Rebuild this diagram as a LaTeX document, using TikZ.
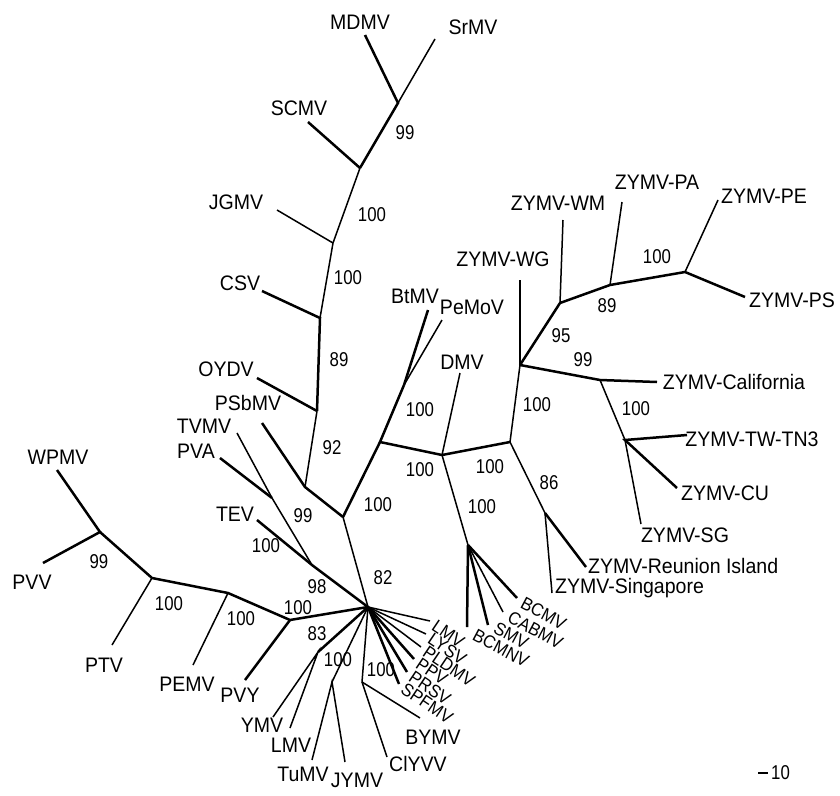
\documentclass[tikz,border=0pt]{standalone}
\usepackage{fontspec}
\newfontfamily\labfam[FakeStretch=0.93]{Liberation Sans}
\newfontfamily\numfam[FakeStretch=0.84]{Liberation Sans}
\tikzset{
  br/.style={line width=1.5pt},
  thk/.style={line width=2.5pt},
  lab/.style={font=\labfam\fontsize{21}{21}\selectfont, inner sep=0pt},
  bsv/.style={font=\numfam\fontsize{20}{20}\selectfont, inner sep=0pt},
  rlab/.style={font=\labfam\fontsize{18}{18}\selectfont, inner sep=0pt, anchor=west},
}
\begin{document}
\begin{tikzpicture}[x=1pt,y=-1pt]
\useasboundingbox (0,0) rectangle (840,795);
% noeuds internes
\coordinate (a) at (398,103);
\coordinate (b) at (360,168);
\coordinate (c) at (333,243);
\coordinate (d) at (320,318);
\coordinate (e) at (317,411);
\coordinate (f) at (305,487);
\coordinate (g) at (343,517);
\coordinate (t) at (368,607);
\coordinate (i) at (380,442);
\coordinate (h) at (404,385);
\coordinate (j) at (442,455);
\coordinate (k) at (510,442);
\coordinate (l) at (468,545);
\coordinate (m) at (520,365);
\coordinate (n) at (545,513);
\coordinate (o) at (560,303);
\coordinate (p) at (610,285);
\coordinate (q) at (685,272);
\coordinate (r) at (600,380);
\coordinate (s) at (625,440);
\coordinate (x) at (272,498);
\coordinate (v) at (312,565);
\coordinate (w) at (290,620);
\coordinate (y) at (228,593);
\coordinate (z) at (152,578);
\coordinate (aa) at (100,532);
\coordinate (ab) at (318,652);
\coordinate (ac) at (332,682);
\coordinate (ad) at (362,682);
% extremites des feuilles
\coordinate (mdmv) at (365,35);
\coordinate (srmv) at (435,39);
\coordinate (scmv) at (308,122);
\coordinate (jgmv) at (277,210);
\coordinate (csv) at (262,291);
\coordinate (oydv) at (257,378);
\coordinate (psbmv) at (262,423);
\coordinate (tvmv) at (237,433);
\coordinate (pva) at (220,458);
\coordinate (tev) at (257,520);
\coordinate (wpmv) at (57,470);
\coordinate (pvv) at (43,563);
\coordinate (ptv) at (112,645);
\coordinate (pemv) at (193,665);
\coordinate (pvy) at (245,680);
\coordinate (ymv) at (273,717);
\coordinate (lmv) at (290,728);
\coordinate (tumv) at (312,760);
\coordinate (jymv) at (345,762);
\coordinate (ciyvv) at (387,757);
\coordinate (bymv) at (420,718);
\coordinate (btmv) at (428,310);
\coordinate (pemov) at (442,320);
\coordinate (dmv) at (460,373);
\coordinate (zwg) at (520,280);
\coordinate (zwm) at (563,220);
\coordinate (zpa) at (622,202);
\coordinate (zpe) at (718,200);
\coordinate (zps) at (745,297);
\coordinate (zcal) at (657,382);
\coordinate (ztw) at (687,435);
\coordinate (zcu) at (677,488);
\coordinate (zsg) at (641,524);
\coordinate (zre) at (586,567);
\coordinate (zsi) at (552,593);
\coordinate (lmvs) at (430,621);
\coordinate (lysv) at (426,634);
\coordinate (pldmv) at (421,647);
\coordinate (ppv) at (414,659);
\coordinate (prsv) at (407,672);
\coordinate (spfmv) at (399,684);
\coordinate (bcmv) at (517,598);
\coordinate (cabmv) at (503,612);
\coordinate (smv) at (488,625);
\coordinate (bcmnv) at (467,627);

% branches
\draw[thk] (mdmv) -- (a) -- (b);
\draw[br] (srmv) -- (a);
\draw[thk] (scmv) -- (b);
\draw[br] (b) -- (c) -- (d);
\draw[br] (jgmv) -- (c);
\draw[thk] (csv) -- (d) -- (e);
\draw[thk] (oydv) -- (e);
\draw[br] (e) -- (f);
\draw[thk] (psbmv) -- (f) -- (g);
\draw[br] (g) -- (t);
\draw[thk] (g) -- (i) -- (h);
\draw[thk] (btmv) -- (h);
\draw[br] (pemov) -- (h);
\draw[thk] (i) -- (j) -- (k);
\draw[br] (dmv) -- (j);
\draw[br] (j) -- (l);
\draw[br] (k) -- (m);
\draw[br] (zwg) -- (m);
\draw[thk] (m) -- (o) -- (p) -- (q) -- (zps);
\draw[br] (zwm) -- (o);
\draw[br] (zpa) -- (p);
\draw[br] (zpe) -- (q);
\draw[thk] (m) -- (r) -- (zcal);
\draw[br] (r) -- (s) -- (zsg);
\draw[thk] (ztw) -- (s) -- (zcu);
\draw[br] (k) -- (n) -- (zsi);
\draw[thk] (n) -- (zre);
\draw[br] (tvmv) -- (x) -- (v);
\draw[thk] (pva) -- (x);
\draw[thk] (tev) -- (v) -- (t);
\draw[thk] (wpmv) -- (aa) -- (pvv);
\draw[thk] (aa) -- (z) -- (y) -- (w) -- (t);
\draw[br] (ptv) -- (z);
\draw[br] (pemv) -- (y);
\draw[thk] (pvy) -- (w);
\draw[thk] (t) -- (ab);
\draw[br] (ymv) -- (ab) -- (lmv);
\draw[br] (t) -- (ac);
\draw[br] (tumv) -- (ac) -- (jymv);
\draw[br] (t) -- (ad) -- (ciyvv);
\draw[br] (ad) -- (bymv);
\draw[br] (t) -- (lmvs);
\draw[br] (t) -- (lysv);
\draw[br] (t) -- (pldmv);
\draw[thk] (t) -- (ppv);
\draw[thk] (t) -- (prsv);
\draw[thk] (t) -- (spfmv);
\draw[thk] (l) -- (bcmv);
\draw[br] (l) -- (cabmv);
\draw[thk] (l) -- (smv);
\draw[thk] (l) -- (bcmnv);

% noms des virus
\node[lab] (mdmvL) at (360,22) {MDMV};
\node[lab] (srmvL) at (473,27) {SrMV};
\node[lab] (scmvL) at (299,108) {SCMV};
\node[lab] (jgmvL) at (236,202) {JGMV};
\node[lab] (csvL) at (240,283) {CSV};
\node[lab] (oydvL) at (226,369) {OYDV};
\node[lab] (psbmvL) at (248,403) {PSbMV};
\node[lab] (tvmvL) at (204,426) {TVMV};
\node[lab] (pvaL) at (196,451) {PVA};
\node[lab] (tevL) at (235,514) {TEV};
\node[lab] (wpmvL) at (58,457) {WPMV};
\node[lab] (pvvL) at (32,582) {PVV};
\node[lab] (ptvL) at (104,665) {PTV};
\node[lab] (pemvL) at (187,684) {PEMV};
\node[lab] (pvyL) at (240,695) {PVY};
\node[lab] (ymvL) at (262,725) {YMV};
\node[lab] (lmvL) at (291,745) {LMV};
\node[lab] (tumvL) at (303,774) {TuMV};
\node[lab] (jymvL) at (357,780) {JYMV};
\node[lab] (ciyvvL) at (418,764) {ClYVV};
\node[lab] (bymvL) at (433,737) {BYMV};
\node[lab] (btmvL) at (415,296) {BtMV};
\node[lab] (pemovL) at (472,307) {PeMoV};
\node[lab] (dmvL) at (462,362) {DMV};
\node[lab] (zwgL) at (503,259) {ZYMV-WG};
\node[lab] (zwmL) at (558,203) {ZYMV-WM};
\node[lab] (zpaL) at (657,182) {ZYMV-PA};
\node[lab] (zpeL) at (764,196) {ZYMV-PE};
\node[lab] (zpsL) at (792,300) {ZYMV-PS};
\node[lab] (zcalL) at (734,382) {ZYMV-California};
\node[lab] (ztwL) at (752,439) {ZYMV-TW-TN3};
\node[lab] (zcuL) at (725,493) {ZYMV-CU};
\node[lab] (zsgL) at (685,535) {ZYMV-SG};
\node[lab,anchor=west] (zreL) at (588,566) {ZYMV-Reunion Island};
\node[lab,anchor=west] (zsiL) at (555,588) {ZYMV-Singapore};
% noms inclines
\node[rlab,rotate=-34] (lmvsL) at (434,624) {LMV};
\node[rlab,rotate=-34] (lysvL) at (430,637) {LYSV};
\node[rlab,rotate=-34] (pldmvL) at (425,650) {PLDMV};
\node[rlab,rotate=-34] (ppvL) at (418,662) {PPV};
\node[rlab,rotate=-34] (prsvL) at (411,675) {PRSV};
\node[rlab,rotate=-34] (spfmvL) at (403,687) {SPFMV};
\node[rlab,rotate=-28] (bcmvL) at (522,602) {BCMV};
\node[rlab,rotate=-28] (cabmvL) at (509,616) {CABMV};
\node[rlab,rotate=-28] (smvL) at (495,627) {SMV};
\node[rlab,rotate=-28] (bcmnvL) at (474,634) {BCMNV};

% valeurs de bootstrap
\foreach \px/\py/\v [count=\k] in {405/133/99, 372/215/100, 348/278/100,
  339/360/89, 332/448/92, 303/516/99, 266/546/100, 378/505/100, 383/578/82,
  317/587/98, 298/608/100, 317/634/83, 338/660/100, 381/670/100, 241/619/100,
  169/604/100, 99/562/99, 420/410/100, 420/470/100, 490/467/100, 482/507/100,
  549/483/86, 537/405/100, 636/409/100, 561/336/95, 583/360/99, 607/306/89,
  657/257/100}
  \node[bsv] (bs\k) at (\px,\py) {\v};

% echelle
\coordinate (sc1) at (758,773);
\coordinate (sc2) at (768,773);
\draw[thk] (sc1) -- (sc2);
\node[bsv, anchor=west] (scL) at (771,773) {10};
\end{tikzpicture}
\end{document}
